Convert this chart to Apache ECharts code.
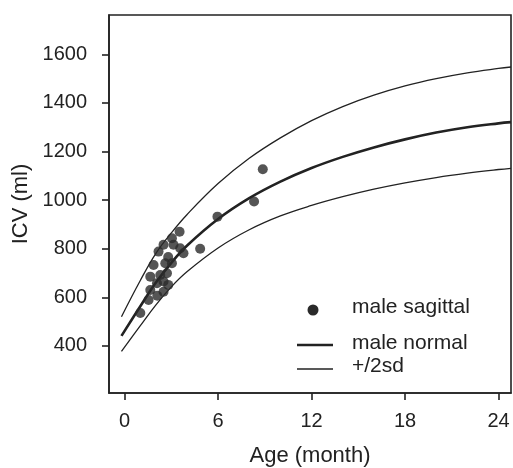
<!DOCTYPE html>
<html>
<head>
<meta charset="utf-8">
<script src="https://cdn.jsdelivr.net/npm/echarts@6/dist/echarts.min.js"></script>
<style>html,body{margin:0;padding:0;background:#fff;}#c{width:513px;height:468px;}</style>
</head>
<body>
<div id="c"></div>
<script>
// ---- data ----
const curveMonths = [-0.2, 1, 2, 3, 4, 6, 8, 10, 12, 14, 16, 18, 20, 22, 24, 24.8];
const normalICV   = [441, 562, 660, 742, 812, 922, 1008, 1076, 1132, 1178, 1217, 1250, 1278, 1300, 1316, 1321];
const upperICV    = [520, 668, 780, 865, 940, 1068, 1172, 1256, 1327, 1385, 1432, 1470, 1500, 1524, 1542, 1548];
const lowerICV    = [377, 482, 568, 643, 705, 803, 878, 935, 978, 1014, 1045, 1071, 1093, 1111, 1126, 1131];

const sagittalAge = [1.01, 1.54, 1.65, 1.65, 1.86, 2.08, 2.10, 2.18, 2.29, 2.50, 2.50, 2.50, 2.61, 2.72, 2.80, 2.80, 3.04, 3.04, 3.14, 3.53, 3.57, 3.78, 4.85, 5.96, 8.31, 8.87];
const sagittalICV = [535, 589, 630, 685, 733, 658, 606, 788, 692, 623, 665, 816, 740, 699, 651, 766, 843, 740, 816, 870, 802, 781, 800, 932, 994, 1127];

const xTicks = [0, 6, 12, 18, 24];
const yTicks = [400, 600, 800, 1000, 1200, 1400, 1600];

const pair = (xs, ys) => xs.map((x, i) => [x, ys[i]]);
const ink = '#222';
const font = 'Liberation Sans, Arial, Helvetica, sans-serif';

const chart = echarts.init(document.getElementById('c'), null, {renderer: 'canvas'});
chart.setOption({
  animation: false,
  backgroundColor: '#fff',
  grid: {left: 109, right: 2, top: 15, bottom: 75, containLabel: false, outerBoundsMode: 'none',
         show: true, borderColor: ink, borderWidth: 1.6, backgroundColor: 'transparent'},
  xAxis: {
    type: 'value', min: -1, max: 24.8,
    name: 'Age (month)', nameLocation: 'middle', nameGap: 52,
    nameTextStyle: {fontFamily: font, fontSize: 22, color: ink},
    axisLine: {show: true, onZero: false, lineStyle: {color: ink, width: 1.6}},
    splitLine: {show: false},
    axisTick: {show: true, inside: false, length: 7, customValues: xTicks, lineStyle: {color: ink, width: 1.6}},
    axisLabel: {customValues: xTicks, margin: 18, fontFamily: font, fontSize: 20, color: ink,
                formatter: v => String(v)}
  },
  yAxis: {
    type: 'value', min: 206, max: 1762,
    name: 'ICV (ml)', nameLocation: 'middle', nameGap: 76, nameRotate: 90,
    nameTextStyle: {fontFamily: font, fontSize: 22, color: ink},
    axisLine: {show: true, onZero: false, lineStyle: {color: ink, width: 1.6}},
    splitLine: {show: false},
    axisTick: {show: true, inside: false, length: 7, customValues: yTicks, lineStyle: {color: ink, width: 1.6}},
    axisLabel: {customValues: yTicks, margin: 22, fontFamily: font, fontSize: 20, color: ink,
                formatter: v => String(v)}
  },
  series: [
    {name: '+/2sd', type: 'line', data: pair(curveMonths, upperICV), smooth: 0.4, showSymbol: false,
     lineStyle: {color: ink, width: 1.3}, z: 2},
    {name: 'male normal', type: 'line', data: pair(curveMonths, normalICV), smooth: 0.4, showSymbol: false,
     lineStyle: {color: ink, width: 2.6}, z: 2},
    {name: '+/2sd', type: 'line', data: pair(curveMonths, lowerICV), smooth: 0.4, showSymbol: false,
     lineStyle: {color: ink, width: 1.3}, z: 2},
    {name: 'male sagittal', type: 'scatter', data: pair(sagittalAge, sagittalICV), symbol: 'circle', symbolSize: 10,
     itemStyle: {color: '#2a2a2a'}, z: 3}
  ],
  graphic: [
    {type: 'circle', shape: {cx: 313, cy: 310, r: 5.5}, style: {fill: '#2a2a2a'}},
    {type: 'text', left: 352, top: 297, style: {text: 'male sagittal', font: '21px ' + font, fill: ink}},
    {type: 'line', shape: {x1: 297, y1: 345, x2: 333, y2: 345}, style: {stroke: ink, lineWidth: 2.6}},
    {type: 'text', left: 352, top: 333, style: {text: 'male normal', font: '21px ' + font, fill: ink}},
    {type: 'line', shape: {x1: 297, y1: 369, x2: 333, y2: 369}, style: {stroke: ink, lineWidth: 1.3}},
    {type: 'text', left: 352, top: 356, style: {text: '+/2sd', font: '21px ' + font, fill: ink}}
  ]
});
</script>
</body>
</html>
